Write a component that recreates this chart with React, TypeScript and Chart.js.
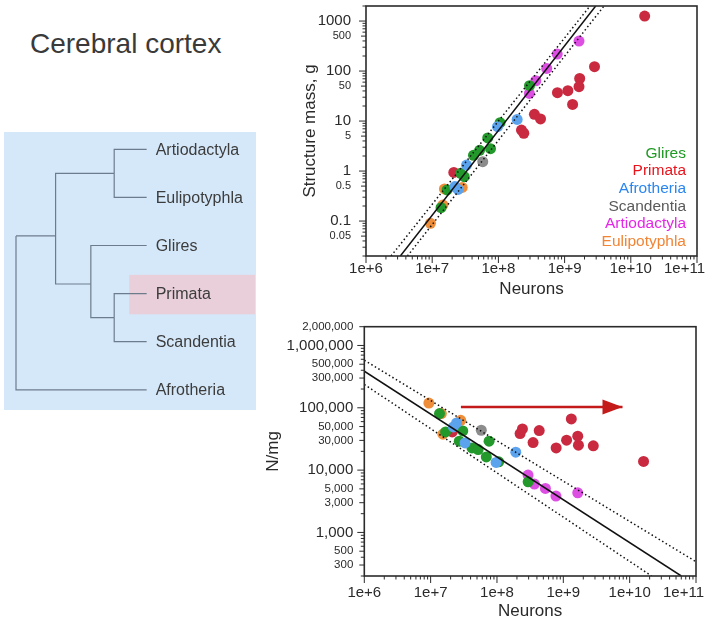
import React, { useEffect, useRef } from 'react';
import { Chart, registerables } from 'chart.js';

Chart.register(...registerables);

const FONT = '"Liberation Sans", Arial, Helvetica, sans-serif';
const TEXT = '#2a2a2a';

// ---------------- clades ----------------
const cladeNames = ['Glires', 'Primata', 'Afrotheria', 'Scandentia', 'Artiodactyla', 'Eulipotyphla'];
const cladeDotColors = ['#23982b', '#c92a40', '#5ca3ee', '#8c8c8c', '#dc4fe2', '#ee8d3a'];
const cladeTextColors = ['#1e9a22', '#e8141c', '#2a86ee', '#5a5a5a', '#e526e8', '#f28434'];
const cladeDrawOrder = [2, 4, 1, 3, 5, 6];

// Glires
const gliresNeurons = [1.36e7, 1.68e7, 2.7e7, 3.05e7, 4.2e7, 5.2e7, 7.6e7, 6.9e7, 1.06e8, 2.95e8];
const gliresMass = [0.185, 0.42, 0.9, 0.77, 2.06, 2.6, 2.8, 4.6, 9.3, 51];
const gliresDensity = [80700, 41000, 29100, 42500, 22700, 21400, 29100, 16300, 13600, 6500];
// Primata
const primataNeurons = [1.62e10, 2.83e9, 1.69e9, 1.65e9, 1.12e9, 7.8e8, 1.32e9, 3.5e8, 4.33e8, 2.23e8, 2.42e8, 2.12e7];
const primataMass = [1259, 122, 71, 48.6, 40.4, 36.9, 21.5, 13.6, 11, 6.6, 5.7, 0.94];
const primataDensity = [13800, 24500, 25100, 35000, 30200, 22700, 66200, 27700, 43100, 38600, 45800, 41000];
// Afrotheria
const afrotheriaNeurons = [2.2e7, 2.46e7, 3.3e7, 9.7e7, 1.92e8];
const afrotheriaMass = [0.49, 0.43, 1.32, 7.7, 10.8];
const afrotheriaDensity = [49300, 57100, 27300, 13300, 19400];
// Scandentia
const scandentiaNeurons = [5.8e7];
const scandentiaMass = [1.54];
const scandentiaDensity = [43600];
// Artiodactyla
const artiodactylaNeurons = [1.65e9, 7.74e8, 5.37e8, 3.67e8, 2.94e8];
const artiodactylaMass = [398, 219, 113, 64, 35.7];
const artiodactylaDensity = [4330, 3840, 5090, 5970, 8320];
// Eulipotyphla
const eulipotyphlaNeurons = [9.4e6, 1.45e7, 1.53e7, 2.84e7];
const eulipotyphlaMass = [0.09, 0.21, 0.44, 0.47];
const eulipotyphlaDensity = [119000, 80800, 37700, 63000];

const cladeNeurons = [gliresNeurons, primataNeurons, afrotheriaNeurons, scandentiaNeurons, artiodactylaNeurons, eulipotyphlaNeurons];
const cladeMass = [gliresMass, primataMass, afrotheriaMass, scandentiaMass, artiodactylaMass, eulipotyphlaMass];
const cladeDensity = [gliresDensity, primataDensity, afrotheriaDensity, scandentiaDensity, artiodactylaDensity, eulipotyphlaDensity];

// ---------------- axes ----------------
const neuronTicks = [1e6, 1e7, 1e8, 1e9, 1e10, 1e11];
const massTickLabels = [0.05, 0.1, 0.5, 1, 5, 10, 50, 100, 500, 1000];
const massMajorTicks = [0.1, 1, 10, 100, 1000];
const densityTickLabels = [300, 500, 1000, 3000, 5000, 10000, 30000, 50000, 100000, 300000, 500000, 1000000, 2000000];
const densityMajorTicks = [1000, 10000, 100000, 1000000];

// ---------------- fits ----------------
const massFitNeurons = [3.3e6, 2.95e9];
const massFit = [0.02, 2000];
const massUpperNeurons = [2.39e6, 2.42e9];
const massUpper = [0.02, 2000];
const massLowerNeurons = [4.23e6, 3.94e9];
const massLower = [0.02, 2000];

const densFitNeurons = [1e6, 6.0e10];
const densFit = [386000, 200];
const densUpperNeurons = [1e6, 1e11];
const densUpper = [580000, 339];
const densLowerNeurons = [1e6, 2.14e10];
const densLower = [237000, 200];

const arrowNeurons = [2.86e7, 7.8e9];
const arrowDensity = [1.03e5, 1.03e5];

// ---------------- tree ----------------
const treeNodeNames = ['root', 'A', 'AE', 'GPS', 'PS', 'Artiodactyla', 'Eulipotyphla', 'Glires', 'Primata', 'Scandentia', 'Afrotheria'];
const treeNodeDepth = [0, 1.0, 2.48, 1.89, 2.48, 3.3, 3.3, 3.3, 3.3, 3.3, 3.3];
const treeNodeRow = [1.8, 1.8, 0.5, 2.8, 3.5, 0, 1, 2, 3, 4, 5];
const treeNodeParent = [-1, 0, 1, 1, 3, 2, 2, 3, 4, 4, 0];
const treeLeafFirst = 5;
const highlightDepth = 2.86;
const highlightRows = [2.61, 3.43];

const pts = (xs: number[], ys: number[]) => xs.map((x, i) => ({ x, y: ys[i] }));

const axisDecor = {
  id: 'axisDecor',
  afterDatasetsDraw(chart: any, _args: any, opts: any) {
    const { ctx, chartArea: a, scales } = chart;
    ctx.save();
    ctx.strokeStyle = '#2b2b2b';
    ctx.lineWidth = 1;
    const drawAxis = (scale: any, labels: number[], horizontal: boolean) => {
      const lo = Math.floor(Math.log10(scale.min));
      const hi = Math.ceil(Math.log10(scale.max));
      for (let e = lo; e <= hi; e++) {
        for (let k = 1; k <= 9; k++) {
          const v = k * Math.pow(10, e);
          if (v < scale.min * 0.999 || v > scale.max * 1.001) continue;
          const labelled = labels.some((l) => Math.abs(l - v) / v < 1e-6);
          const len = k === 1 ? opts.majorLen : labelled ? opts.midLen : opts.minorLen;
          const p = scale.getPixelForValue(v);
          ctx.beginPath();
          if (horizontal) {
            ctx.moveTo(p, a.bottom);
            ctx.lineTo(p, a.bottom + len);
          } else {
            ctx.moveTo(a.left, p);
            ctx.lineTo(a.left - len, p);
          }
          ctx.stroke();
        }
      }
    };
    drawAxis(scales.x, opts.xLabels, true);
    drawAxis(scales.y, opts.yLabels, false);
    ctx.lineWidth = 1.6;
    ctx.strokeRect(a.left, a.top, a.right - a.left, a.bottom - a.top);
    ctx.restore();
  },
};

const arrowHead = {
  id: 'arrowHead',
  afterDatasetsDraw(chart: any) {
    const idx = chart.data.datasets.findIndex((d: any) => d.isArrow);
    if (idx < 0) return;
    const ds = chart.data.datasets[idx];
    const end = ds.data[ds.data.length - 1];
    const x = chart.scales.x.getPixelForValue(end.x);
    const y = chart.scales.y.getPixelForValue(end.y);
    const { ctx } = chart;
    ctx.save();
    ctx.fillStyle = ds.borderColor;
    ctx.beginPath();
    ctx.moveTo(x, y);
    ctx.lineTo(x - 20, y - 7.5);
    ctx.lineTo(x - 20, y + 7.5);
    ctx.closePath();
    ctx.fill();
    ctx.restore();
  },
};

const xLabel = (v: number) => {
  const e = Math.round(Math.log10(v));
  return e === 11 ? '1e+11      ' : '1e+' + e;
};

function lineDs(xs: number[], ys: number[], dashed: boolean) {
  return {
    data: pts(xs, ys),
    showLine: true,
    pointRadius: 0,
    borderColor: '#111',
    borderWidth: dashed ? 1.5 : 1.5,
    borderDash: dashed ? [1.5, 2.6] : [],
    order: 0,
  };
}

function cladeDatasets(values: number[][]) {
  return cladeNames.map((name, c) => ({
    label: name,
    data: pts(cladeNeurons[c], values[c]),
    pointRadius: 5.5,
    pointBackgroundColor: cladeDotColors[c],
    pointBorderWidth: 0,
    borderColor: cladeDotColors[c],
    showLine: false,
    order: cladeDrawOrder[c],
  }));
}

function xScale(height: number, padTick: number, padTitle: number) {
  return {
    type: 'logarithmic',
    min: 1e6,
    max: 1e11,
    bounds: 'data',
    grid: { display: false, drawTicks: false },
    border: { display: false },
    afterBuildTicks: (s: any) => {
      s.ticks = neuronTicks.map((v) => ({ value: v }));
    },
    afterFit: (s: any) => {
      s.height = height;
      s.paddingLeft = 0;
      s.paddingRight = 0;
    },
    ticks: {
      autoSkip: false,
      maxRotation: 0,
      minRotation: 0,
      padding: padTick,
      color: TEXT,
      font: { family: FONT, size: 15 },
      callback: (v: any) => xLabel(Number(v)),
    },
    title: {
      display: true,
      text: 'Neurons',
      color: TEXT,
      font: { family: FONT, size: 17 },
      padding: { top: 0, bottom: padTitle },
    },
  };
}

function yScale(min: number, max: number, labels: number[], majors: number[], width: number, padTick: number, padTitle: number, title: string, fmt: (v: number) => string, bigSize: number, smallSize: number) {
  return {
    type: 'logarithmic',
    min,
    max,
    bounds: 'data',
    grid: { display: false, drawTicks: false },
    border: { display: false },
    afterBuildTicks: (s: any) => {
      s.ticks = labels.map((v) => ({ value: v }));
    },
    afterFit: (s: any) => {
      s.width = width;
      s.paddingTop = 0;
      s.paddingBottom = 0;
    },
    ticks: {
      autoSkip: false,
      padding: padTick,
      color: TEXT,
      font: (ctx: any) => ({
        family: FONT,
        size: ctx.tick && majors.includes(ctx.tick.value) ? bigSize : smallSize,
      }),
      callback: (v: any) => fmt(Number(v)),
    },
    title: {
      display: true,
      text: title,
      color: TEXT,
      font: { family: FONT, size: 17 },
      padding: { top: padTitle, bottom: 0 },
    },
  };
}

function massConfig(): any {
  return {
    type: 'scatter',
    data: {
      datasets: [
        lineDs(massFitNeurons, massFit, false),
        lineDs(massUpperNeurons, massUpper, true),
        lineDs(massLowerNeurons, massLower, true),
        ...cladeDatasets(cladeMass),
      ],
    },
    options: {
      responsive: false,
      animation: false,
      events: [],
      layout: { padding: { left: 0, right: 11, top: 6, bottom: 0 } },
      plugins: {
        legend: { display: false },
        tooltip: { enabled: false },
        axisDecor: { xLabels: neuronTicks, yLabels: massTickLabels, majorLen: 7, midLen: 5, minorLen: 3.5 },
      },
      scales: {
        x: xScale(44, 4, 0),
        y: yScale(0.02, 2000, massTickLabels, massMajorTicks, 86, 15, 20, 'Structure mass, g', (v) => String(v), 15, 11),
      },
    },
    plugins: [axisDecor],
  };
}

function densConfig(): any {
  return {
    type: 'scatter',
    data: {
      datasets: [
        lineDs(densFitNeurons, densFit, false),
        lineDs(densUpperNeurons, densUpper, true),
        lineDs(densLowerNeurons, densLower, true),
        {
          isArrow: true,
          data: pts(arrowNeurons, arrowDensity),
          showLine: true,
          pointRadius: 0,
          borderColor: '#c41a1a',
          borderWidth: 2.6,
          order: 0,
        },
        ...cladeDatasets(cladeDensity),
      ],
    },
    options: {
      responsive: false,
      animation: false,
      events: [],
      layout: { padding: { left: 0, right: 12, top: 26.7, bottom: 0 } },
      plugins: {
        legend: { display: false },
        tooltip: { enabled: false },
        axisDecor: { xLabels: neuronTicks, yLabels: densityTickLabels, majorLen: 7, midLen: 5, minorLen: 3.5 },
      },
      scales: {
        x: xScale(50, 8, 4),
        y: yScale(200, 2000000, densityTickLabels, densityMajorTicks, 114.3, 11, 12.8, 'N/mg', (v) => v.toLocaleString('en-US'), 15, 11.5),
      },
    },
    plugins: [axisDecor, arrowHead],
  };
}

const treeDecor = {
  id: 'treeDecor',
  beforeDatasetsDraw(chart: any) {
    const { ctx, scales, chartArea } = chart;
    const x0 = scales.x.getPixelForValue(highlightDepth);
    const y0 = scales.y.getPixelForValue(highlightRows[0]);
    const y1 = scales.y.getPixelForValue(highlightRows[1]);
    ctx.save();
    ctx.fillStyle = '#e9cfd9';
    ctx.fillRect(x0, y0, chartArea.right - 1 - x0, y1 - y0);
    ctx.restore();
  },
  afterDatasetsDraw(chart: any) {
    const { ctx, scales } = chart;
    ctx.save();
    ctx.fillStyle = '#3c3c3c';
    ctx.font = '16px ' + FONT;
    ctx.textBaseline = 'middle';
    ctx.textAlign = 'left';
    for (let i = treeLeafFirst; i < treeNodeNames.length; i++) {
      ctx.fillText(treeNodeNames[i], scales.x.getPixelForValue(treeNodeDepth[i]) + 9, scales.y.getPixelForValue(treeNodeRow[i]) + 1);
    }
    ctx.restore();
  },
};

function treeConfig(): any {
  const datasets = [];
  for (let i = 0; i < treeNodeNames.length; i++) {
    const p = treeNodeParent[i];
    if (p < 0) continue;
    datasets.push({
      data: [
        { x: treeNodeDepth[p], y: treeNodeRow[p] },
        { x: treeNodeDepth[p], y: treeNodeRow[i] },
        { x: treeNodeDepth[i], y: treeNodeRow[i] },
      ],
      showLine: true,
      pointRadius: 0,
      borderColor: '#6d7c8c',
      borderWidth: 1.2,
    });
  }
  return {
    type: 'scatter',
    data: { datasets },
    options: {
      responsive: false,
      animation: false,
      events: [],
      layout: { padding: 0 },
      plugins: { legend: { display: false }, tooltip: { enabled: false } },
      scales: {
        x: { type: 'linear', min: -0.303, max: 6.061, display: false },
        y: { type: 'linear', min: -0.36, max: 5.42, reverse: true, display: false },
      },
    },
    plugins: [treeDecor],
  };
}

export default function App() {
  const treeRef = useRef<HTMLCanvasElement>(null);
  const massRef = useRef<HTMLCanvasElement>(null);
  const densRef = useRef<HTMLCanvasElement>(null);

  useEffect(() => {
    const charts = [
      new Chart(treeRef.current as HTMLCanvasElement, treeConfig()),
      new Chart(massRef.current as HTMLCanvasElement, massConfig()),
      new Chart(densRef.current as HTMLCanvasElement, densConfig()),
    ];
    return () => charts.forEach((c) => c.destroy());
  }, []);

  return (
    <div style={{ position: 'absolute', left: 0, top: 0, width: 708, height: 626, background: '#fff', fontFamily: FONT, overflow: 'hidden' }}>
      <div style={{ position: 'absolute', left: 30, top: 30, fontSize: 28, lineHeight: '28px', color: '#3a3a3a', whiteSpace: 'nowrap' }}>
        Cerebral cortex
      </div>
      <div style={{ position: 'absolute', left: 4, top: 132, width: 252, height: 278, background: '#d5e8fa' }} />
      <canvas ref={treeRef} width={252} height={278} style={{ position: 'absolute', left: 4, top: 132, width: 252, height: 278 }} />
      <canvas ref={massRef} width={428} height={300} style={{ position: 'absolute', left: 280, top: 0, width: 428, height: 300 }} />
      <canvas ref={densRef} width={458} height={326} style={{ position: 'absolute', left: 250, top: 300, width: 458, height: 326 }} />
      <div style={{ position: 'absolute', left: 540, top: 143.9, width: 146, textAlign: 'right', fontSize: 15.5, lineHeight: '17.6px', whiteSpace: 'nowrap' }}>
        {cladeNames.map((n, i) => (
          <div key={n} style={{ color: cladeTextColors[i] }}>{n}</div>
        ))}
      </div>
    </div>
  );
}
